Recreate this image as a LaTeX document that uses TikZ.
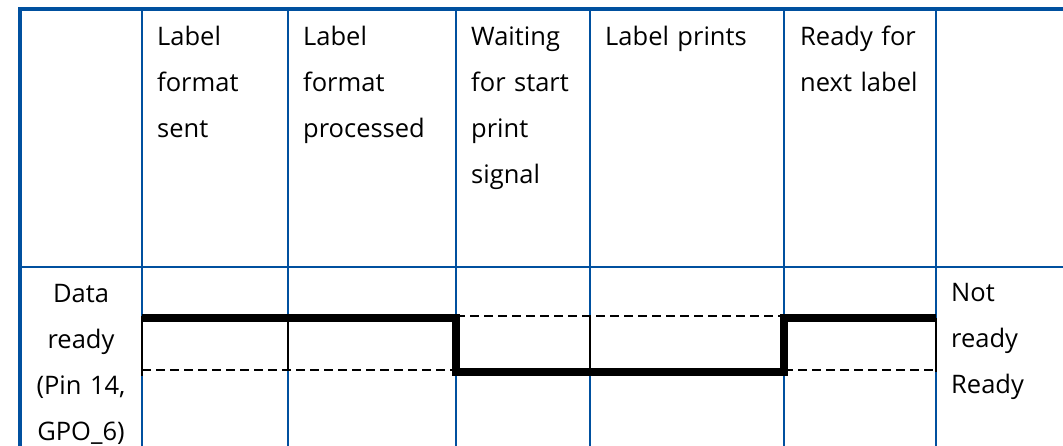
\documentclass[tikz,border=0pt]{standalone}
\usepackage{fontspec}
\setmainfont{Open Sans}
\usetikzlibrary{positioning}
\definecolor{gridcolor}{HTML}{00509F}
\definecolor{sigcolor}{HTML}{000000}

\begin{document}
\begin{tikzpicture}[
    x=1pt, y=-1pt,
    font=\fontsize{25.5}{46}\selectfont,
    gridline/.style={gridcolor, line width=2pt},
    tableframe/.style={gridcolor, line width=3.5pt},
    cell/.style={anchor=base west, inner sep=0pt, text width=180pt, align=left},
    sigline/.style={sigcolor, line width=8.5pt},
    levelline/.style={sigcolor, line width=2.4pt, dash pattern=on 9pt off 5pt},
    tickline/.style={sigcolor, line width=1.2pt}
]
    \useasboundingbox (0,0) rectangle (1063,446);

    % Table grid
    \foreach \xcol in {142, 288, 456, 590, 784, 936}
        \draw[gridline] (\xcol, 9) -- (\xcol, 446);
    \draw[gridline] (20, 267) -- (1063, 267);
    \draw[tableframe] (20, 446) -- (20, 9) -- (1063, 9);

    % Header row
    \node[cell] (sent) at (157, 46) {Label\\format\\sent};
    \node[cell] (processed) at (303, 46) {Label\\format\\processed};
    \node[cell] (waiting) at (471, 46) {Waiting\\for start\\print\\signal};
    \node[cell] (prints) at (605, 46) {Label prints};
    \node[cell] (nextlabel) at (800, 46) {Ready for\\next label};

    % Signal row labels
    \node[cell, anchor=base, text width=122pt, align=center] (pin) at (81, 303) {Data\\ready\\(Pin 14,\\GPO\_6)};
    \node[cell] (states) at (951, 302) {Not\\ready\\Ready};

    % Reference levels (dashed)
    \draw[levelline] (142, 370) -- (456, 370);
    \draw[levelline] (456, 316) -- (784, 316);
    \draw[levelline] (784, 370) -- (936, 370);

    % Thin markers inside the signal band
    \draw[tickline] (142, 316) -- (142, 376);
    \draw[tickline] (288, 318) -- (288, 370);
    \draw[tickline] (590, 316) -- (590, 370);
    \draw[tickline] (936, 318) -- (936, 372);

    % Data ready signal
    \draw[sigline] (142, 318) -- (456, 318) -- (456, 372) -- (784, 372) -- (784, 318) -- (936, 318);

\end{tikzpicture}
\end{document}
